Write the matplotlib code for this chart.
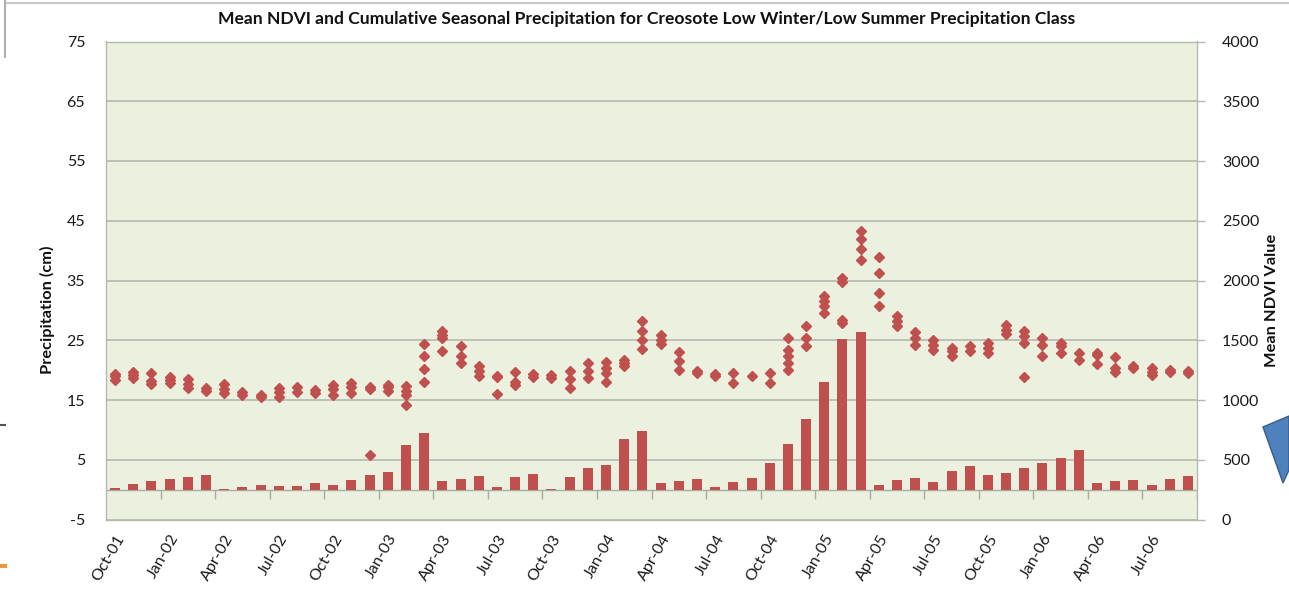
import matplotlib.pyplot as plt
import matplotlib.lines as mlines
import matplotlib.patches as mpatches
import numpy as np

plt.rcParams['font.family'] = ['Lato', 'DejaVu Sans']
plt.rcParams['axes.unicode_minus'] = False

# monthly labels Oct-01 .. Sep-06
months = ['Oct', 'Nov', 'Dec', 'Jan', 'Feb', 'Mar', 'Apr', 'May', 'Jun', 'Jul', 'Aug', 'Sep']
month_labels = []
for yr in range(1, 6):
    for k, m in enumerate(months):
        y = yr if k < 3 else yr + 1
        month_labels.append('%s-%02d' % (m, y))

# cumulative seasonal precipitation (cm)
precip = [0.25, 0.9, 1.4, 1.8, 2.15, 2.4, 0.15, 0.5, 0.7, 0.6, 0.6, 1.1,
          0.75, 1.65, 2.4, 2.9, 7.5, 9.5, 1.4, 1.8, 2.3, 0.5, 2.15, 2.55,
          0.1, 2.05, 3.55, 4.05, 8.55, 9.8, 1.15, 1.4, 1.8, 0.5, 1.25, 1.9,
          4.45, 7.7, 11.85, 18.0, 25.2, 26.3, 0.8, 1.65, 1.9, 1.2, 3.05, 4.0,
          2.45, 2.7, 3.55, 4.5, 5.25, 6.6, 1.1, 1.4, 1.6, 0.75, 1.7, 2.2]

# mean NDVI composites falling in each month
ndvi = [
    [1218, 1198, 1168], [1232, 1210, 1185], [1230, 1160, 1135], [1196, 1168, 1140],
    [1179, 1134, 1098], [1103, 1078], [1131, 1095, 1061], [1070, 1042],
    [1040, 1025], [1098, 1064, 1028], [1106, 1070], [1084, 1061],
    [1126, 1095, 1042], [1145, 1112, 1061], [1112, 1089, 543], [1126, 1106, 1075],
    [1117, 1078, 1042, 955], [1470, 1369, 1257, 1154], [1574, 1546, 1518, 1411], [1453, 1369, 1313],
    [1285, 1246, 1204], [1201, 1190, 1047], [1238, 1154, 1126], [1218, 1190],
    [1210, 1182], [1246, 1173, 1098], [1308, 1246, 1182], [1322, 1266, 1224, 1154],
    [1336, 1308, 1285], [1658, 1574, 1504, 1425], [1540, 1500, 1470], [1398, 1323, 1253],
    [1240, 1225], [1220, 1200], [1224, 1146], [1205],
    [1224, 1146], [1519, 1421, 1365, 1309, 1253], [1622, 1519, 1449], [1869, 1827, 1785, 1729],
    [2023, 1986, 1673, 1645], [2415, 2345, 2261, 2171], [2199, 2065, 1897, 1790], [1701, 1659, 1617],
    [1566, 1519, 1463], [1498, 1462, 1420], [1434, 1406, 1369], [1448, 1414],
    [1476, 1434, 1392], [1630, 1588, 1554], [1574, 1532, 1476, 1196], [1518, 1462, 1369],
    [1481, 1448, 1397], [1397, 1336], [1397, 1378, 1302], [1364, 1266, 1238],
    [1285, 1266], [1266, 1238, 1210], [1252, 1238], [1243, 1230],
]

red = '#C0504D'
grid_c = '#BCC0B5'

fig = plt.figure(figsize=(12.89, 5.91), dpi=100)
ax = fig.add_axes([106 / 1289, 71.5 / 591, 1091 / 1289, 478 / 591])
ax.set_facecolor('#EBF1DE')

x = np.arange(len(precip))
ax.bar(x, precip, width=0.55, color=red, zorder=3)
ax.set_xlim(-0.5, len(precip) - 0.5)
ax.set_ylim(-5, 75)
ax.set_yticks(np.arange(-5, 76, 10))
ax.yaxis.grid(True, color=grid_c, lw=1.4, zorder=0)
ax.set_axisbelow(True)
ax.tick_params(axis='y', length=0, pad=15, labelsize=11.5, colors='#1A1A1A')

# category axis sits on zero, labels stay at the bottom
ax.axhline(0, color='#A8ACA2', lw=1.0, zorder=2)
ax.vlines(np.arange(2.5, len(precip), 3), -1.5, 0, color='#A8ACA2', lw=1.0, zorder=2)
ax.set_xticks(x[::3])
ax.set_xticklabels(month_labels[::3], rotation=60, ha='right',
                   rotation_mode='anchor', fontsize=11.5, color='#1A1A1A')
ax.tick_params(axis='x', length=0, pad=9)

for s in ax.spines.values():
    s.set_color('#B5B9AE')
    s.set_linewidth(1.0)

ax2 = ax.twinx()
nx = [i for i, vals in enumerate(ndvi) for v in vals]
ny = [v for vals in ndvi for v in vals]
ax2.plot(nx, ny, linestyle='none', marker='D', markersize=4.9,
         color=red, markeredgecolor=red, zorder=4)
ax2.set_ylim(0, 4000)
ax2.set_yticks(np.arange(0, 4001, 500))
ax2.tick_params(axis='y', length=6, width=1.0, pad=12, labelsize=11.5,
                colors='#B5B9AE', labelcolor='#1A1A1A')
for s in ax2.spines.values():
    s.set_visible(False)

fig.text(0.502, 1 - 19 / 591,
         'Mean NDVI and Cumulative Seasonal Precipitation for Creosote Low Winter/Low Summer Precipitation Class',
         ha='center', va='center', fontsize=12.6, fontweight='bold', color='#111111')
fig.text(47 / 1289, 1 - 310 / 591, 'Precipitation (cm)', rotation=90,
         ha='center', va='center', fontsize=11.8, fontweight='bold', color='#111111')
fig.text(1272 / 1289, 1 - 300 / 591, 'Mean NDVI Value', rotation=90,
         ha='center', va='center', fontsize=11.8, fontweight='bold', color='#111111')

# slide clutter around the chart frame
fig.add_artist(mlines.Line2D([5 / 1289, 1], [1 - 3 / 591, 1 - 3 / 591], color='#C8C8C8', lw=1.5))
fig.add_artist(mlines.Line2D([5 / 1289, 5 / 1289], [1, 1 - 57 / 591], color='#B0B0B0', lw=1.5))
fig.add_artist(mlines.Line2D([0, 5 / 1289], [1 - 425 / 591, 1 - 425 / 591], color='#555555', lw=1.5))
fig.add_artist(mlines.Line2D([0, 5 / 1289], [1 - 566 / 591, 1 - 566 / 591], color='#E59B3A', lw=3))
tri = mpatches.Polygon([(1263 / 1289, 1 - 427 / 591), (1.0, 1 - 416 / 591),
                        (1.0, 1 - 470 / 591), (1283 / 1289, 1 - 483 / 591)],
                       closed=True, transform=fig.transFigure,
                       facecolor='#4F81BD', edgecolor='#385D8A', lw=1.0)
fig.add_artist(tri)

fig.savefig('out.png', dpi=100)
